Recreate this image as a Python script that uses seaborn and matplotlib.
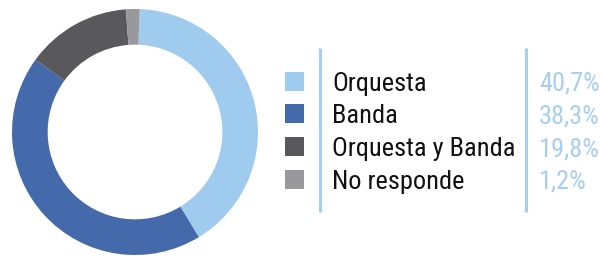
import matplotlib
matplotlib.use("Agg")
import matplotlib.pyplot as plt
import seaborn as sns
from matplotlib.patches import Rectangle
from matplotlib import font_manager

categories = ["Orquesta", "Banda", "Orquesta y Banda", "No responde"]
# wedge sizes as drawn in the picture (in percent of the ring)
values = [40.7, 43.7, 13.8, 1.8]
pct_labels = ["40,7%", "38,3%", "19,8%", "1,2%"]
colors = ["#9ecbee", "#456aab", "#59585d", "#99989d"]

sns.set_theme(style="white")
names = {f.name for f in font_manager.fontManager.ttflist}
fam = [f for f in ["Liberation Sans Narrow", "Roboto Condensed", "Roboto", "DejaVu Sans"] if f in names]
plt.rcParams["font.family"] = fam

W, H = 605, 259
fig = plt.figure(figsize=(W / 100, H / 100), dpi=100)
fig.patch.set_facecolor("white")

# donut
cx, cy, R = 135, 132, 123
ax = fig.add_axes([(cx - R) / W, (H - cy - R) / H, 2 * R / W, 2 * R / H])
ax.pie(values, colors=colors, startangle=87.8, counterclock=False,
       radius=1, wedgeprops=dict(width=0.29, linewidth=0, edgecolor="none"))
ax.set_xlim(-1, 1)
ax.set_ylim(-1, 1)
ax.set_aspect("equal")
ax.axis("off")

# legend panel in pixel coords
lg = fig.add_axes([0, 0, 1, 1])
lg.set_xlim(0, W)
lg.set_ylim(H, 0)
lg.axis("off")
lg.patch.set_alpha(0)

base0, step = 90.5, 32.8
for i, (cat, pct, col) in enumerate(zip(categories, pct_labels, colors)):
    b = base0 + i * step
    lg.add_patch(Rectangle((285, b - 19), 19, 19, facecolor=col, edgecolor="none"))
    lg.text(332, b, cat, fontsize=19, color="#111111", va="baseline", ha="left")
    lg.text(539, b, pct, fontsize=19, color="#a6cfef", va="baseline", ha="left")

lg.plot([320, 320], [48, 212], color="#a6cfef", lw=2.2, solid_capstyle="butt")
lg.plot([526, 526], [48, 212], color="#a6cfef", lw=2.2, solid_capstyle="butt")

fig.savefig("out.png", dpi=100, facecolor="white")
